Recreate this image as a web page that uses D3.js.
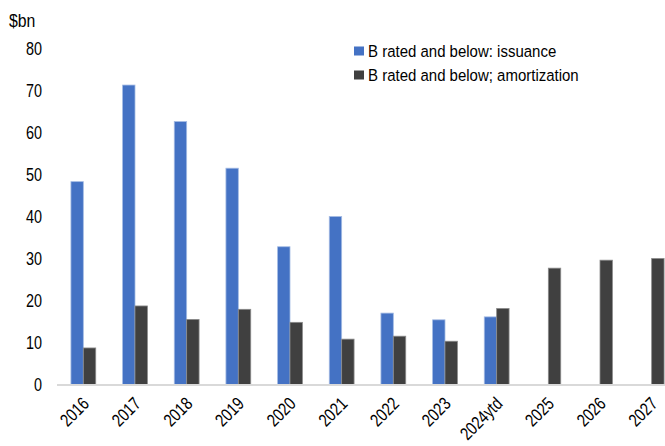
<!DOCTYPE html>
<html>
<head>
<meta charset="utf-8">
<script src="https://cdn.jsdelivr.net/npm/d3@7"></script>
<style>
  body { margin: 0; background: #fff; }
  svg text { font-family: "Liberation Sans", Arial, sans-serif; fill: #000; }
</style>
</head>
<body>
<svg width="665" height="446"></svg>
<script>
// data ($bn)
var years = ["2016", "2017", "2018", "2019", "2020", "2021", "2022", "2023", "2024ytd", "2025", "2026", "2027"];
var issuance = [48.3, 71.3, 62.6, 51.5, 32.8, 40.0, 17.0, 15.4, 16.1, null, null, null];
var amortization = [8.7, 18.7, 15.5, 17.9, 14.8, 10.8, 11.5, 10.3, 18.1, 27.7, 29.6, 30.0];
var seriesNames = ["B rated and below: issuance", "B rated and below; amortization"];
var yTicks = [0, 10, 20, 30, 40, 50, 60, 70, 80];

var colors = ["#4472c4", "#404040"],
    edges = ["#a4bbe4", "#8a8a8a"];

var svg = d3.select("svg");

var x = d3.scaleBand()
    .domain(years)
    .range([57.5, 677.5])
    .paddingInner(0.52)
    .paddingOuter(0.26);

var x1 = d3.scaleBand()
    .domain([0, 1])
    .range([0, x.bandwidth()]);

var y = d3.scaleLinear()
    .domain([0, 80])
    .range([384.5, 48.5]);

var rows = years.map(function(yr, i) {
  return {year: yr, values: [issuance[i], amortization[i]]};
});

// bars
var group = svg.selectAll(".year")
  .data(rows)
  .enter().append("g")
    .attr("class", "year")
    .attr("transform", function(d) { return "translate(" + x(d.year) + ",0)"; });

group.selectAll("rect")
  .data(function(d) { return d.values.map(function(v, k) { return {k: k, v: v}; }).filter(function(e) { return e.v != null; }); })
  .enter().append("rect")
    .attr("x", function(d) { return x1(d.k); })
    .attr("width", x1.bandwidth())
    .attr("y", function(d) { return y(d.v); })
    .attr("height", function(d) { return y(0) - y(d.v); })
    .attr("fill", function(d) { return colors[d.k]; })
    .attr("stroke", function(d) { return edges[d.k]; })
    .attr("stroke-width", 0.8);

// baseline
svg.append("line")
    .attr("x1", 57)
    .attr("x2", 665)
    .attr("y1", y(0) + 0.5)
    .attr("y2", y(0) + 0.5)
    .attr("stroke", "#d9d9d9")
    .attr("stroke-width", 1.8);

// y axis labels (source font is condensed)
var yAxis = svg.append("g")
    .attr("transform", "translate(42,0)")
    .call(d3.axisLeft(y).tickValues(yTicks).tickSize(0).tickPadding(0));
yAxis.select(".domain").remove();
yAxis.selectAll("text")
    .attr("x", 0)
    .attr("transform", "scale(0.8,1)")
    .style("font-size", "18px")
    .attr("fill", "#000");

svg.append("text")
    .attr("transform", "translate(9,27) scale(0.88,1)")
    .style("font-size", "18px")
    .text("$bn");

// x labels
svg.selectAll(".xlab")
  .data(years)
  .enter().append("text")
    .attr("class", "xlab")
    .attr("text-anchor", "end")
    .attr("transform", function(d) {
      return "translate(" + (x(d) + x.bandwidth() / 2 - 2) + ",396) rotate(-45) scale(0.8,1)";
    })
    .attr("dy", "0.7em")
    .style("font-size", "18px")
    .text(function(d) { return d; });

// legend
var legend = svg.append("g")
    .attr("class", "legend")
    .selectAll("g")
  .data(seriesNames)
  .enter().append("g")
    .attr("transform", function(d, i) { return "translate(354," + (51 + i * 24) + ")"; });

legend.append("rect")
    .attr("x", 0)
    .attr("y", -4.5)
    .attr("width", 10)
    .attr("height", 9)
    .attr("fill", function(d, i) { return colors[i]; });

legend.append("text")
    .attr("x", 14)
    .attr("dy", "0.36em")
    .attr("transform", "scale(1,1.12)")
    .style("font-size", "15px")
    .text(function(d) { return d; });
</script>
</body>
</html>
